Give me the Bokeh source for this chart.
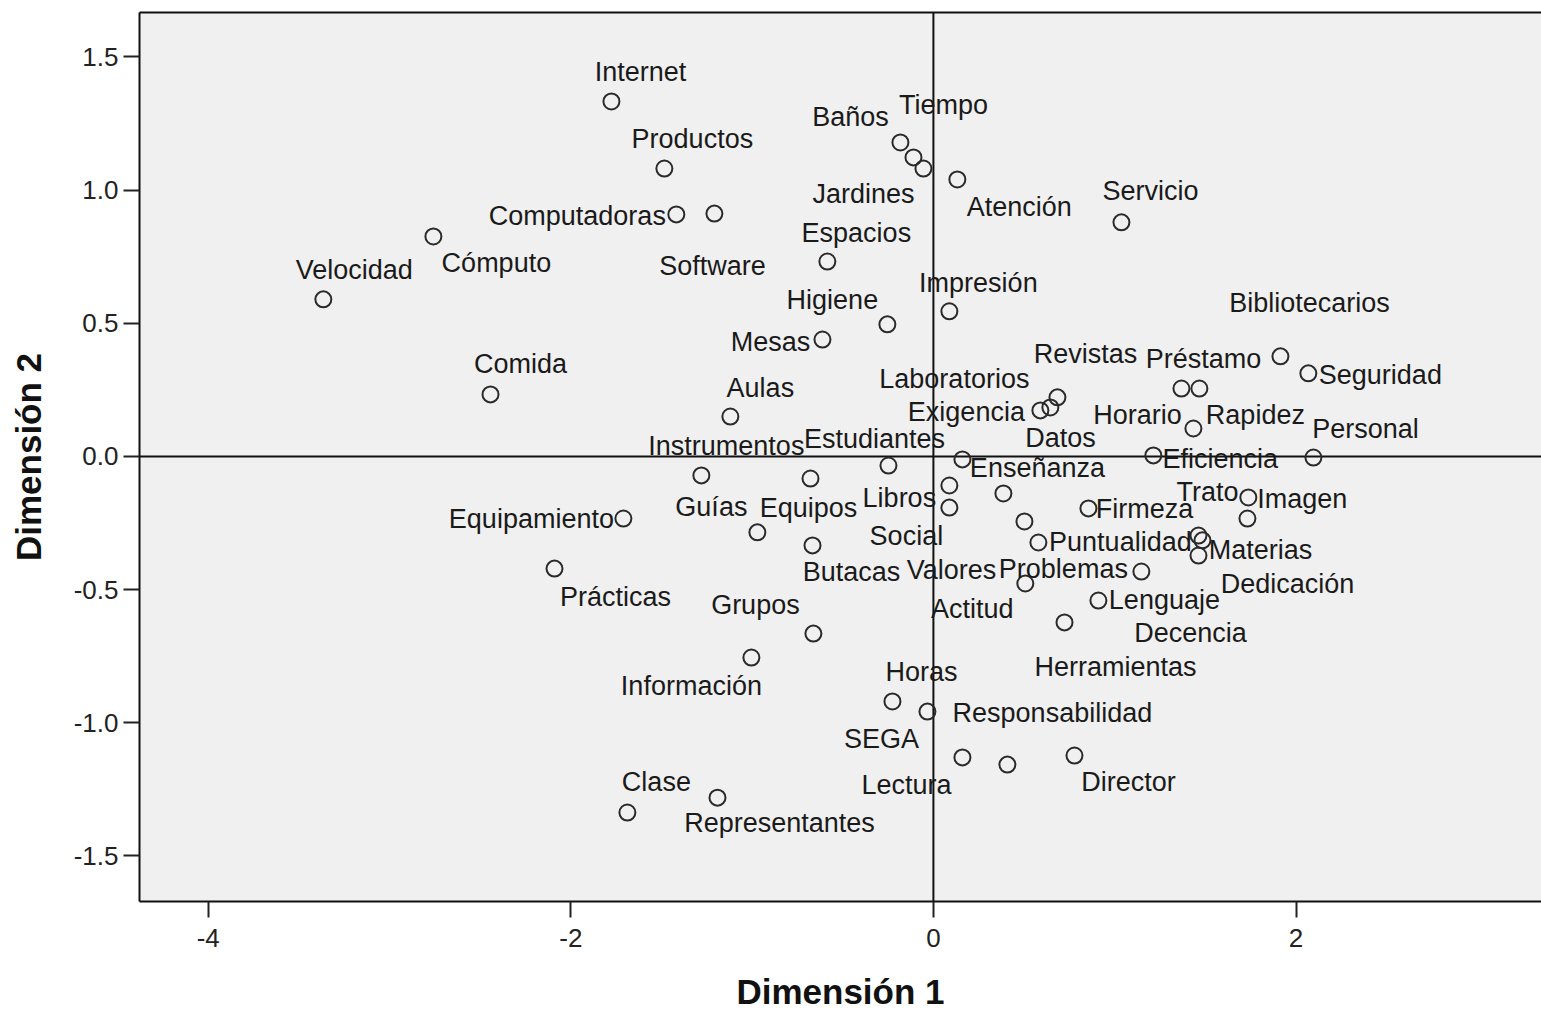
from bokeh.plotting import figure
from bokeh.models import (Range1d, Span, ColumnDataSource, FixedTicker, PrintfTickFormatter,
                          LinearAxis)
from bokeh.embed import file_html
from bokeh.resources import INLINE
from bokeh.core.properties import value

labels = ["Internet", "Productos", "Computadoras", "Software", "Cómputo", "Velocidad", "Baños",
          "Tiempo", "Jardines", "Espacios", "Higiene", "Mesas", "Comida", "Aulas",
          "Atención", "Servicio", "Impresión", "Bibliotecarios", "Seguridad", "Préstamo", "Rapidez",
          "Horario", "Revistas", "Laboratorios", "Exigencia", "Eficiencia",
          "Instrumentos", "Estudiantes", "Equipos", "Equipamiento", "Guías", "Butacas", "Prácticas",
          "Grupos", "Información", "Horas", "Clase", "Representantes",
          "SEGA", "Enseñanza", "Libros", "Social", "Datos", "Valores", "Puntualidad", "Firmeza",
          "Imagen", "Dedicación", "Trato", "Materias", "Decencia", "Problemas", "Actitud",
          "Lenguaje", "Herramientas", "Lectura", "Responsabilidad", "Director", "Personal"]

dim1 = [-1.776, -1.484, -1.418, -1.208, -2.758, -3.365, -0.182, -0.110, -0.055, -0.585, -0.254,
        -0.612, -2.443, -1.120,
        0.132, 1.037, 0.088, 1.914, 2.068, 1.368, 1.467, 1.434, 0.684, 0.645, 0.590, 1.213,
        -1.280, -0.248, -0.678, -1.710, -0.971, -0.667, -2.090, -0.662, -1.004, -0.226, -1.688,
        -1.191,
        -0.033, 0.160, 0.088, 0.088, 0.386, 0.502, 0.579, 0.855, 1.737, 1.732, 1.462, 1.484,
        1.462, 1.147, 0.507, 0.910, 0.723, 0.160, 0.408, 0.778, 2.096]

dim2 = [1.333, 1.081, 0.909, 0.912, 0.826, 0.590, 1.179, 1.123, 1.081, 0.732, 0.496, 0.439,
        0.233, 0.150,
        1.040, 0.879, 0.545, 0.376, 0.312, 0.255, 0.255, 0.105, 0.222, 0.184, 0.173, 0.004,
        -0.071, -0.034, -0.083, -0.233, -0.285, -0.334, -0.421, -0.665, -0.755, -0.920, -1.337,
        -1.281,
        -0.958, -0.011, -0.109, -0.192, -0.139, -0.244, -0.323, -0.195, -0.154, -0.233, -0.297,
        -0.315, -0.372, -0.432, -0.477, -0.541, -0.623, -1.130, -1.157, -1.123, -0.004]

x_ticks = [-4, -2, 0, 2]
y_ticks = [-1.5, -1.0, -0.5, 0.0, 0.5, 1.0, 1.5]

# label placement (screen pixel offsets from each point)
label_dx = [29, 28, -99, -2, 63, 31, -50, 30, -60, 29, -55, -52, 30, 30,
            62, 29, 29, 29, 72, 22, 56, -56, 28, -96, -74, 67,
            25, -14, -2, -92, -46, 39, 61, -58, -60, 29, 29, 62,
            -46, 75, -50, -43, 57, -73, 82, 56, 54, 40, 9, 58, -8, -78, -53, 66, 51, -56, 45, 54, 52]
label_dy = [-29, -30, 2, 52, 27, -29, -25, -52, 25, -29, -24, 2, -30, -29,
            28, -31, -28, -53, 2, -30, 26, -14, -43, -28, 2, 4,
            -29, -27, 29, 0, -25, 27, 28, -29, 28, -29, -31, 25,
            27, 9, 13, 28, -55, 49, 0, 1, 2, 65, -44, 10, 77, -3, 25, -1, 45, 28, -52, 26, -29]

src = ColumnDataSource(dict(labels=labels, dim1=dim1, dim2=dim2, dx=label_dx, dy=label_dy))

FONT = "Liberation Sans"

p = figure(frame_width=1402, frame_height=889, output_backend="svg", toolbar_location=None,
           x_range=Range1d(-4.379, 3.354), y_range=Range1d(-1.671, 1.667),
           min_border_left=139, min_border_right=0, min_border_top=12, min_border_bottom=113)
p.background_fill_color = "#f0f0f0"
p.border_fill_color = "white"
p.outline_line_color = None
p.grid.visible = False

p.xaxis.ticker = FixedTicker(ticks=x_ticks)
p.yaxis.ticker = FixedTicker(ticks=y_ticks)
p.xaxis.formatter = PrintfTickFormatter(format="%d")
p.yaxis.formatter = PrintfTickFormatter(format="%.1f")
for ax in (p.xaxis, p.yaxis):
    ax.minor_tick_line_color = None
    ax.major_tick_in = 0
    ax.major_tick_out = 16
    ax.major_tick_line_width = 2
    ax.major_tick_line_color = "#222222"
    ax.axis_line_color = "#111111"
    ax.axis_line_width = 2
    ax.major_label_text_font = FONT
    ax.major_label_text_font_size = "26px"
    ax.major_label_text_color = "#222222"
    ax.axis_label_text_font = FONT
    ax.axis_label_text_font_style = "bold"
    ax.axis_label_text_font_size = "35px"
    ax.axis_label_text_color = "#111111"
p.xaxis.axis_label = "Dimensión 1"
p.yaxis.axis_label = "Dimensión 2"
p.xaxis.major_label_standoff = 11
p.yaxis.major_label_standoff = 5
p.xaxis.axis_label_standoff = 22
p.yaxis.axis_label_standoff = 23

top_axis = LinearAxis(ticker=FixedTicker(ticks=[]), axis_line_color="#111111",
                      axis_line_width=2, major_tick_line_color=None,
                      minor_tick_line_color=None, major_label_text_font_size="0px")
p.add_layout(top_axis, "above")

p.add_layout(Span(location=0, dimension="height", line_color="#111111", line_width=2, level="underlay"))
p.add_layout(Span(location=0, dimension="width", line_color="#111111", line_width=2, level="underlay"))

p.scatter(x="dim1", y="dim2", source=src, size=16, fill_color=None,
          line_color="#2a2a2a", line_width=2)
p.text(x="dim1", y="dim2", text="labels", x_offset="dx", y_offset="dy", source=src,
       text_align="center", text_baseline="middle", text_font=value(FONT),
       text_font_size=value("27px"), text_color="#1a1a1a")

open("out.html", "w").write(file_html(p, INLINE))
